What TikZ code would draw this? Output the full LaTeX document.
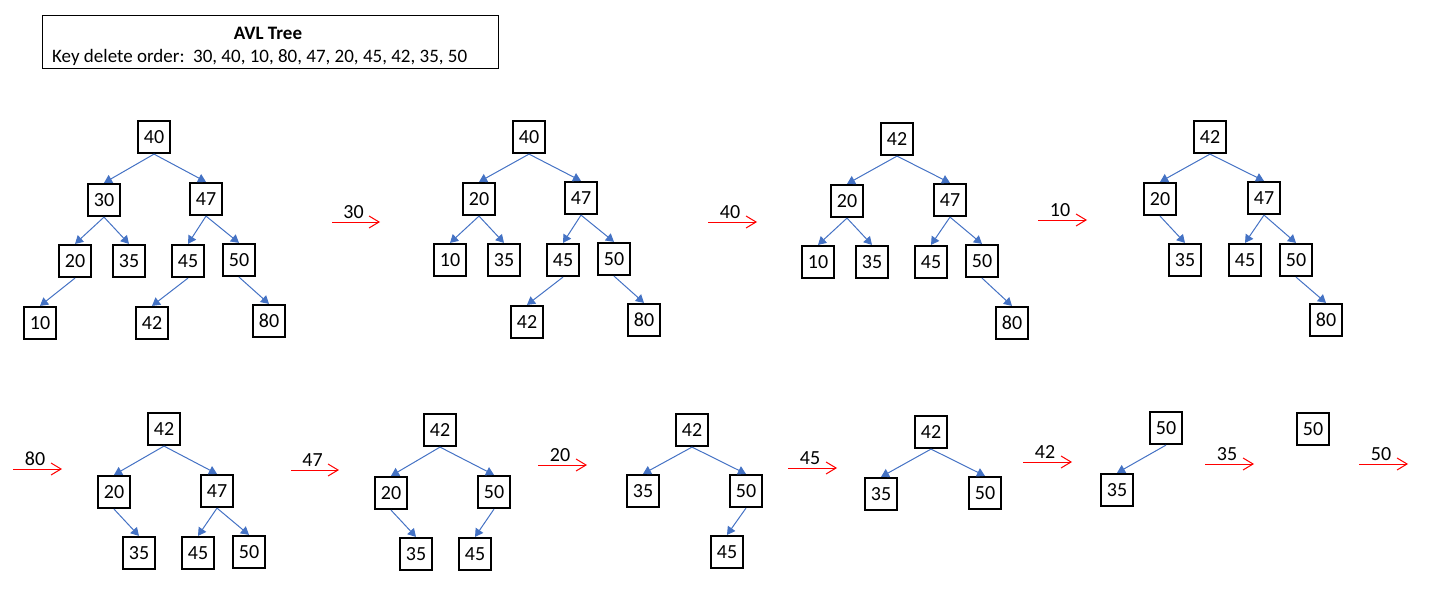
\documentclass[tikz,border=0pt]{standalone}
\usepackage{fontspec}
\setmainfont{Carlito}
\usetikzlibrary{arrows.meta}
\definecolor{edgeblue}{HTML}{4472C4}
\begin{document}
\begin{tikzpicture}[x=1pt,y=-1pt,
  key/.style={draw=black, line width=2.2pt, minimum width=32pt, minimum height=32pt,
    inner sep=0pt, font=\fontsize{20}{24}\selectfont},
  link/.style={draw=edgeblue, line width=1pt, -{Triangle[length=8pt,width=9pt]}},
  delstep/.style={draw=red, line width=1pt, -{Straight Barb[length=10pt,width=12pt]}},
  dellabel/.style={font=\fontsize{20}{24}\selectfont, inner sep=0pt, above=3pt, pos=0.45}]
\useasboundingbox (0,0) rectangle (1432,594);

% heading box
\node[draw=black, line width=1pt, minimum width=456pt, minimum height=53pt,
  inner sep=0pt, anchor=north west] (title) at (42,15) {};
\node[font=\fontsize{19}{23}\selectfont\bfseries] (head) at (268,33) {AVL Tree};
\node[font=\fontsize{19}{23}\selectfont, anchor=west, inner sep=0pt] (order) at (52,57)
  {Key delete order:\ \ 30, 40, 10, 80, 47, 20, 45, 42, 35, 50};

% tree 1: initial
\node[key] (a40) at (154,137) {40};
\node[key] (a30) at (104,200) {30};
\node[key] (a47) at (206,199) {47};
\node[key] (a20) at (75,261) {20};
\node[key] (a35) at (129,261) {35};
\node[key] (a45) at (188,261) {45};
\node[key] (a50) at (239,260) {50};
\node[key] (a10) at (40,323) {10};
\node[key] (a42) at (152,323) {42};
\node[key] (a80) at (269,321) {80};
\foreach \p/\c in {a40/a30,a40/a47,a30/a20,a30/a35,a47/a45,a47/a50,a20/a10,a45/a42,a50/a80}
  \draw[link] (\p.south) -- (\c.north);

% tree 2: after deleting 30
\node[key] (b40) at (529,137) {40};
\node[key] (b20) at (479,199) {20};
\node[key] (b47) at (581,198) {47};
\node[key] (b10) at (450,260) {10};
\node[key] (b35) at (504,260) {35};
\node[key] (b45) at (563,260) {45};
\node[key] (b50) at (614,259) {50};
\node[key] (b42) at (527,322) {42};
\node[key] (b80) at (644,320) {80};
\foreach \p/\c in {b40/b20,b40/b47,b20/b10,b20/b35,b47/b45,b47/b50,b45/b42,b50/b80}
  \draw[link] (\p.south) -- (\c.north);

% tree 3: after deleting 40
\node[key] (c42) at (897,139) {42};
\node[key] (c20) at (847,201) {20};
\node[key] (c47) at (950,200) {47};
\node[key] (c10) at (818,262) {10};
\node[key] (c35) at (872,262) {35};
\node[key] (c45) at (931,262) {45};
\node[key] (c50) at (982,261) {50};
\node[key] (c80) at (1012,323) {80};
\foreach \p/\c in {c42/c20,c42/c47,c20/c10,c20/c35,c47/c45,c47/c50,c50/c80}
  \draw[link] (\p.south) -- (\c.north);

% tree 4: after deleting 10
\node[key] (d42) at (1210,137) {42};
\node[key] (d20) at (1160,199) {20};
\node[key] (d47) at (1264,198) {47};
\node[key] (d35) at (1185,260) {35};
\node[key] (d45) at (1245,260) {45};
\node[key] (d50) at (1296,260) {50};
\node[key] (d80) at (1326,320) {80};
\foreach \p/\c in {d42/d20,d42/d47,d20/d35,d47/d45,d47/d50,d50/d80}
  \draw[link] (\p.south) -- (\c.north);

% tree 5: after deleting 80
\node[key] (e42) at (164,429) {42};
\node[key] (e20) at (114,492) {20};
\node[key] (e47) at (217,491) {47};
\node[key] (e35) at (139,553) {35};
\node[key] (e45) at (198,553) {45};
\node[key] (e50) at (249,552) {50};
\foreach \p/\c in {e42/e20,e42/e47,e20/e35,e47/e45,e47/e50}
  \draw[link] (\p.south) -- (\c.north);

% tree 6: after deleting 47
\node[key] (f42) at (440,430) {42};
\node[key] (f20) at (391,493) {20};
\node[key] (f50) at (494,492) {50};
\node[key] (f35) at (416,554) {35};
\node[key] (f45) at (475,554) {45};
\foreach \p/\c in {f42/f20,f42/f50,f20/f35,f50/f45}
  \draw[link] (\p.south) -- (\c.north);

% tree 7: after deleting 20
\node[key] (g42) at (692,430) {42};
\node[key] (g35) at (643,491) {35};
\node[key] (g50) at (746,491) {50};
\node[key] (g45) at (727,552) {45};
\foreach \p/\c in {g42/g35,g42/g50,g50/g45}
  \draw[link] (\p.south) -- (\c.north);

% tree 8: after deleting 45
\node[key] (h42) at (931,432) {42};
\node[key] (h35) at (881,494) {35};
\node[key] (h50) at (985,493) {50};
\foreach \p/\c in {h42/h35,h42/h50}
  \draw[link] (\p.south) -- (\c.north);

% tree 9: after deleting 42
\node[key] (i50) at (1166,428) {50};
\node[key] (i35) at (1117,490) {35};
\draw[link] (i50.south) -- (i35.north);

% tree 10: after deleting 35
\node[key] (j50) at (1313,429) {50};

% deletion steps
\foreach \k/\xa/\xb/\yy in {30/332/380/222, 40/708/757/222, 10/1038/1087/220,
    80/13/62/469, 47/291/339/470, 20/538/587/465, 45/788/837/468,
    42/1023/1072/462, 35/1205/1254/464, 50/1359/1408/464} {
  \coordinate (s\k) at (\xa,\yy);
  \coordinate (t\k) at (\xb,\yy);
  \draw[delstep] (s\k) -- node[dellabel] (l\k) {\k} (t\k);
}
\end{tikzpicture}
\end{document}
